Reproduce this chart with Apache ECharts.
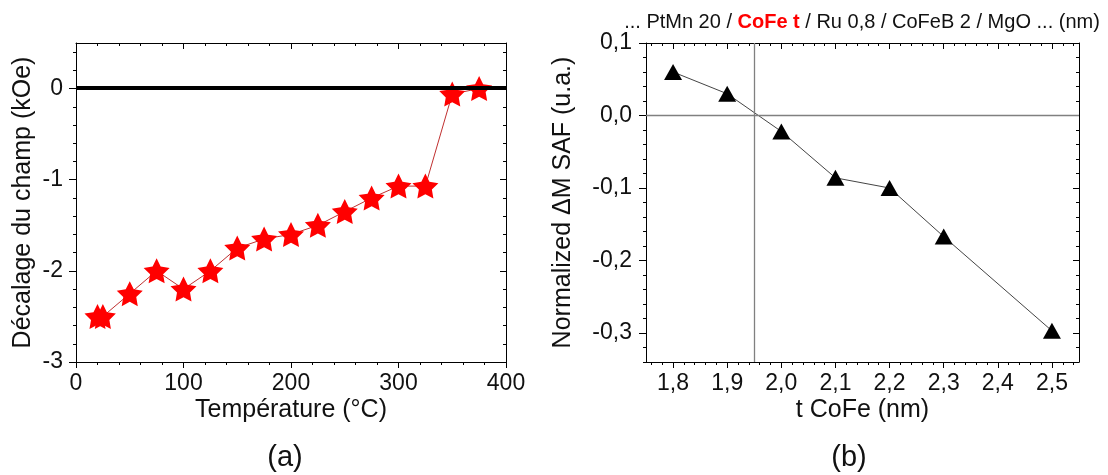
<!DOCTYPE html>
<html>
<head>
<meta charset="utf-8">
<script src="https://cdn.jsdelivr.net/npm/echarts@6/dist/echarts.min.js"></script>
<style>
html,body{margin:0;padding:0;background:#fff;}
#chart{width:1108px;height:475px;}
</style>
</head>
<body>
<div id="chart"></div>
<script>
// ---------- Data ----------
// Panel (a)
const tempC = [20, 25, 50, 75, 100, 125, 150, 175, 200, 225, 250, 275, 300, 325, 350, 375];
const shiftKOe = [-2.5, -2.5, -2.25, -2.0, -2.2, -2.0, -1.75, -1.65, -1.6, -1.5, -1.35, -1.2, -1.07, -1.07, -0.06, 0.0];
const zeroLineA = 0.015;
const xTicksA = [0, 100, 200, 300, 400];
const yTicksA = [-3, -2, -1, 0];

// Panel (b)
const tCoFe = [1.8, 1.9, 2.0, 2.1, 2.2, 2.3, 2.5];
const dMsaf = [0.06, 0.03, -0.022, -0.086, -0.1, -0.167, -0.297];
const hLineB = 0;
const vLineB = 1.945;
const xTicksB = [1.8, 1.9, 2.0, 2.1, 2.2, 2.3, 2.4, 2.5];
const yTicksB = [-0.3, -0.2, -0.1, 0.0, 0.1];

// ---------- Helpers ----------
const FONT = 'Liberation Sans, Arial, sans-serif';
function minorValues(min, max, step, majors) {
  const out = [];
  const n = Math.round((max - min) / step);
  for (let i = 0; i <= n; i++) {
    const v = +(min + i * step).toFixed(6);
    if (!majors.some(m => Math.abs(m - v) < 1e-9)) out.push(v);
  }
  return out;
}
function starPath(ri) {
  const pts = [];
  for (let i = 0; i < 10; i++) {
    const a = (-90 + i * 36) * Math.PI / 180;
    const r = i % 2 ? ri : 1;
    pts.push((r * Math.cos(a)).toFixed(4) + ' ' + (r * Math.sin(a)).toFixed(4));
  }
  return 'path://M' + pts.join(' L') + ' Z';
}
function axesSet(dim, gridIndex, min, max, majors, minors, fmt, name, nameGap, labelMargin, majorLen) {
  const posA = dim === 'x' ? 'bottom' : 'left';
  const posB = dim === 'x' ? 'top' : 'right';
  const base = {
    type: 'value', gridIndex, min, max, scale: true,
    splitLine: { show: false }, nameMoveOverlap: false
  };
  const line = { show: true, onZero: false, lineStyle: { color: '#000', width: 1 } };
  const noLine = { show: false, onZero: false };
  return [
    Object.assign({}, base, {
      position: posA, axisLine: line,
      axisTick: { show: true, inside: false, length: majorLen, customValues: majors, lineStyle: { color: '#000', width: 1 } },
      axisLabel: { show: true, customValues: majors, formatter: fmt, margin: labelMargin,
        fontSize: 23, color: '#111', fontFamily: FONT },
      name, nameLocation: 'middle', nameGap,
      nameTextStyle: { fontSize: 25, color: '#111', fontFamily: FONT }
    }),
    Object.assign({}, base, {
      position: posA, axisLine: noLine,
      axisTick: { show: true, inside: false, length: 3, customValues: minors, lineStyle: { color: '#000', width: 1 } },
      axisLabel: { show: false }
    }),
    Object.assign({}, base, {
      position: posB, axisLine: line,
      axisTick: { show: true, inside: true, length: 6, customValues: majors, lineStyle: { color: '#000', width: 1 } },
      axisLabel: { show: false }
    }),
    Object.assign({}, base, {
      position: posB, axisLine: noLine,
      axisTick: { show: true, inside: true, length: 3, customValues: minors, lineStyle: { color: '#000', width: 1 } },
      axisLabel: { show: false }
    })
  ];
}

const fmtA = v => String(Math.round(v));
const fmtB = v => v.toFixed(1).replace('.', ',');

const xMinorA = minorValues(0, 400, 20, xTicksA);
const yMinorA = minorValues(-3, 0.5, 0.2, yTicksA);
const xMinorB = minorValues(1.76, 2.54, 0.02, xTicksB);
const yMinorB = minorValues(-0.34, 0.1, 0.02, yTicksB);

const xAxes = [].concat(
  axesSet('x', 0, 0, 400, xTicksA, xMinorA, fmtA, 'Température (°C)', 36, 10, 6),
  axesSet('x', 1, 1.75, 2.55, xTicksB, xMinorB, fmtB, 't CoFe (nm)', 36, 10, 6)
);
const yAxes = [].concat(
  axesSet('y', 0, -3, 0.5, yTicksA, yMinorA, fmtA, 'Décalage du champ (kOe)', 40, 13, 7),
  axesSet('y', 1, -0.34, 0.1, yTicksB, yMinorB, fmtB, 'Normalized \u0394M SAF (u.a.)', 70, 14, 7)
);

const chart = echarts.init(document.getElementById('chart'), null, { renderer: 'canvas' });
chart.setOption({
  animation: false,
  backgroundColor: '#fff',
  textStyle: { fontFamily: FONT },
  grid: [
    { left: 76, top: 43, width: 430, height: 319, outerBoundsMode: 'none', containLabel: false },
    { left: 646, top: 43, width: 433, height: 319, outerBoundsMode: 'none', containLabel: false }
  ],
  xAxis: xAxes,
  yAxis: yAxes,
  graphic: [
    { type: 'text', x: 862, y: 22, style: {
        text: '... PtMn 20 / {r|CoFe t} / Ru 0,8 / CoFeB 2 / MgO ... (nm)',
        fontSize: 20, fontFamily: FONT, fill: '#111', align: 'center', verticalAlign: 'middle',
        rich: { r: { fill: '#ff0000', fontWeight: 'bold', fontSize: 20, fontFamily: FONT } }
      } },
    { type: 'text', x: 285, y: 458, style: { text: '(a)', fontSize: 29, fontFamily: FONT, fill: '#111', align: 'center', verticalAlign: 'middle' } },
    { type: 'text', x: 849, y: 458, style: { text: '(b)', fontSize: 29, fontFamily: FONT, fill: '#111', align: 'center', verticalAlign: 'middle' } }
  ],
  series: [
    {
      type: 'line', xAxisIndex: 0, yAxisIndex: 0, data: [], z: 1, silent: true,
      markLine: { silent: true, symbol: 'none', animation: false, label: { show: false },
        lineStyle: { color: '#000', width: 4, type: 'solid' },
        data: [{ yAxis: zeroLineA }] }
    },
    {
      type: 'line', xAxisIndex: 0, yAxisIndex: 0, z: 3,
      data: tempC.map((t, i) => [t, shiftKOe[i]]),
      symbol: starPath(0.5), symbolSize: [26, 25], showAllSymbol: true,
      itemStyle: { color: '#ff0000' },
      lineStyle: { color: '#c03030', width: 1 }
    },
    {
      type: 'line', xAxisIndex: 4, yAxisIndex: 4, data: [], z: 1, silent: true,
      markLine: { silent: true, symbol: 'none', animation: false, label: { show: false },
        lineStyle: { color: '#808080', width: 1.3, type: 'solid' },
        data: [{ yAxis: hLineB }, { xAxis: vLineB }] }
    },
    {
      type: 'line', xAxisIndex: 4, yAxisIndex: 4, z: 3,
      data: tCoFe.map((t, i) => [t, dMsaf[i]]),
      symbol: 'triangle', symbolSize: [18, 16], showAllSymbol: true,
      itemStyle: { color: '#000' },
      lineStyle: { color: '#444', width: 1 }
    }
  ]
});
</script>
</body>
</html>
